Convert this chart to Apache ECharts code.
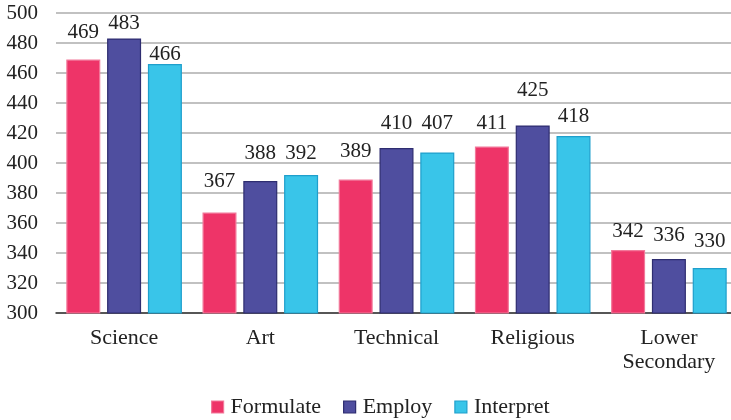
<!DOCTYPE html>
<html>
<head>
<meta charset="utf-8">
<script src="https://cdn.jsdelivr.net/npm/echarts@6/dist/echarts.min.js"></script>
<style>html,body{margin:0;padding:0;background:#fff;}#c{width:731px;height:420px;}</style>
</head>
<body>
<div id="c"></div>
<script>
const categories = ['Science', 'Art', 'Technical', 'Religious', 'Lower\nSecondary'];
const seriesNames = ['Formulate', 'Employ', 'Interpret'];
const formulate = [469, 367, 389, 411, 342];
const employ = [483, 388, 410, 425, 336];
const interpret = [466, 392, 407, 418, 330];
const yTicks = { min: 300, max: 500, interval: 20 };

// label lift above each bar (style only)
const liftF = [18, 22, 19, 14, 9];
const liftE = [6, 18, 15, 26, 14];
const liftI = [0, 12, 20, 10, 17];

const fills = ['#EE3468', '#4F4E9F', '#39C5E9'];
const borders = ['#F2789A', '#2E2D70', '#1F9FCC'];
const FONT = 'Liberation Serif';

function mk(name, vals, lifts, i) {
  return {
    name: name,
    type: 'bar',
    barWidth: 34,
    barGap: '20%',
    itemStyle: { color: fills[i], borderColor: borders[i], borderWidth: 1.2 },
    data: vals.map((v, k) => ({
      value: v,
      label: { distance: lifts[k] - 1 }
    })),
    label: {
      show: true, position: 'top',
      fontFamily: FONT, fontSize: 21, color: '#222'
    }
  };
}

const chart = echarts.init(document.getElementById('c'));
chart.setOption({
  animation: false,
  textStyle: { fontFamily: FONT },
  grid: { left: 56, top: 13, width: 681, bottom: 107, containLabel: false, outerBoundsMode: 'none' },
  legend: {
    top: 391, left: 206,
    itemWidth: 12, itemHeight: 12, itemGap: 22,
    icon: 'rect',
    textStyle: { fontFamily: FONT, fontSize: 22, color: '#222', padding: [0, 0, 0, 2] },
    data: seriesNames.map((n, i) => ({ name: n, itemStyle: { color: fills[i], borderColor: borders[i], borderWidth: 1.2 } }))
  },
  xAxis: {
    type: 'category', data: categories,
    axisLine: { lineStyle: { color: '#333', width: 1.5 } },
    axisTick: { show: false },
    axisLabel: { fontFamily: FONT, fontSize: 22, color: '#222', margin: 13, lineHeight: 24, interval: 0 }
  },
  yAxis: {
    type: 'value', min: yTicks.min, max: yTicks.max, interval: yTicks.interval,
    axisLine: { show: false }, axisTick: { show: false },
    axisLabel: { fontFamily: FONT, fontSize: 21, color: '#222', margin: 18 },
    splitLine: { lineStyle: { color: '#ADADAD', width: 1.5 } }
  },
  series: [
    mk(seriesNames[0], formulate, liftF, 0),
    mk(seriesNames[1], employ, liftE, 1),
    mk(seriesNames[2], interpret, liftI, 2)
  ]
});
</script>
</body>
</html>
